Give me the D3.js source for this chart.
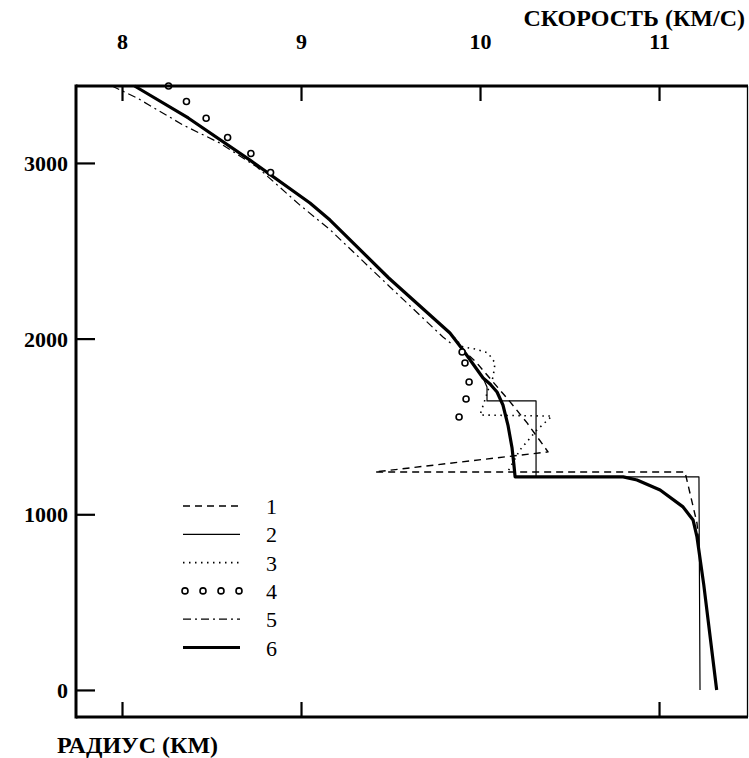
<!DOCTYPE html>
<html>
<head>
<meta charset="utf-8">
<script src="https://cdn.jsdelivr.net/npm/d3@7"></script>
<style>
  html, body { margin: 0; padding: 0; background: #fff; }
  svg { display: block; }
  text { font-family: "Liberation Serif", "Times New Roman", serif; fill: #000; }
</style>
</head>
<body>
<svg id="chart" width="749" height="758"></svg>
<script>
// Velocity axis (km/s) and radius axis (km)
const velocityTicks = [8, 9, 10, 11];
const velocityBottomTicks = [8, 9, 11];
const radiusTicks = [0, 1000, 2000, 3000];
const velocityTitle = "СКОРОСТЬ (КМ/С)";
const radiusTitle = "РАДИУС (КМ)";
const legendLabels = ["1", "2", "3", "4", "5", "6"];

// Model 6: [radius, velocity]
const model6 = [
  [3438, 8.07], [3256, 8.37], [3016, 8.715], [2772, 9.05], [2675, 9.162],
  [2345, 9.49], [2032, 9.832], [1935, 9.905], [1776, 10.017], [1742, 10.056],
  [1696, 10.095], [1622, 10.128], [1508, 10.156], [1377, 10.179], [1275, 10.19],
  [1213, 10.196], [1213, 10.80], [1195, 10.877], [1138, 11.006], [1042, 11.134],
  [968, 11.19], [871, 11.212], [598, 11.25], [0, 11.322]
];
// Model 2: step structure above the inner core
const model2 = [
  [3438, 8.07], [3256, 8.37], [3016, 8.715], [2772, 9.05], [2675, 9.162],
  [2345, 9.49], [2032, 9.832], [1935, 9.905], [1776, 10.017], [1725, 10.039],
  [1645, 10.039], [1645, 10.313], [1213, 10.313], [1213, 11.223], [0, 11.229]
];
// Model 1
const model1 = [
  [3438, 8.07], [3256, 8.37], [3016, 8.715], [2772, 9.05], [2675, 9.162],
  [2345, 9.49], [2032, 9.832], [1935, 9.905], [1870, 9.975], [1804, 10.03],
  [1640, 10.168], [1520, 10.263], [1355, 10.38], [1241, 9.413], [1241, 11.145],
  [950, 11.212], [825, 11.223]
];
// Model 3
const model3 = [
  [3438, 8.07], [3256, 8.37], [3016, 8.715], [2772, 9.05], [2675, 9.162],
  [2345, 9.49], [2032, 9.832], [1952, 9.905], [1941, 9.972], [1918, 10.045],
  [1861, 10.084], [1781, 10.073], [1707, 10.045], [1565, 10.0], [1559, 10.402],
  [1480, 10.318], [1366, 10.223], [1235, 10.151]
];
// Model 4: discrete estimates
const model4 = [
  [3438, 8.26], [3350, 8.36], [3254, 8.47], [3145, 8.59], [3054, 8.72], [2946, 8.83],
  [1924, 9.90], [1861, 9.916], [1753, 9.939], [1656, 9.922], [1554, 9.883]
];
// Model 5
const model5 = [
  [3438, 7.944], [3370, 8.084], [3216, 8.341], [3113, 8.547], [2977, 8.754],
  [2760, 8.994], [2620, 9.162], [2294, 9.497], [2009, 9.793], [1964, 9.849]
];

const svg = d3.select("#chart");
const mLeft = 76, mRight = 748, mTop = 86, mBottom = 717;

const x = d3.scaleLinear().domain([7.743, 11.497]).range([mLeft, mRight]);
const y = d3.scaleLinear().domain([-154, 3438]).range([mBottom, mTop]);

const line = d3.line().x(d => x(d[1])).y(d => y(d[0]));

// Line styles per model
const styles = {
  1: { width: 1.4, dash: "7,5" },
  2: { width: 1.2, dash: null },
  3: { width: 1.6, dash: "1.5,4.5" },
  5: { width: 1.2, dash: "8,4,2,4" },
  6: { width: 3.2, dash: null }
};

function drawLine(data, s) {
  svg.append("path")
    .datum(data)
    .attr("d", line)
    .attr("fill", "none")
    .attr("stroke", "#000")
    .attr("stroke-width", s.width)
    .attr("stroke-dasharray", s.dash)
    .attr("stroke-linejoin", "round");
}

drawLine(model2, styles[2]);
drawLine(model3, styles[3]);
drawLine(model1, styles[1]);
drawLine(model5, styles[5]);
drawLine(model6, styles[6]);

svg.append("g").selectAll("circle")
  .data(model4)
  .join("circle")
  .attr("cx", d => x(d[1]))
  .attr("cy", d => y(d[0]))
  .attr("r", 3)
  .attr("fill", "#fff")
  .attr("stroke", "#000")
  .attr("stroke-width", 1.6);

// Axes
const topAxis = d3.axisTop(x).tickValues(velocityTicks).tickSize(-15).tickPadding(37)
  .tickFormat(d3.format("d"));
const gTop = svg.append("g").attr("transform", `translate(0,${mTop})`).call(topAxis);

const leftAxis = d3.axisLeft(y).tickValues(radiusTicks).tickSize(-19).tickPadding(8)
  .tickFormat(d3.format("d"));
const gLeft = svg.append("g").attr("transform", `translate(${mLeft},0)`).call(leftAxis);

const bottomAxis = d3.axisBottom(x).tickValues(velocityBottomTicks).tickSize(-15).tickFormat("");
const gBottom = svg.append("g").attr("transform", `translate(0,${mBottom})`).call(bottomAxis);

[gTop, gLeft, gBottom].forEach(g => {
  g.select(".domain").remove();
  g.selectAll(".tick line").attr("stroke", "#000").attr("stroke-width", 2.2);
  g.selectAll(".tick text")
    .attr("font-family", "Liberation Serif, serif")
    .attr("font-weight", "bold")
    .attr("font-size", 22)
    .attr("fill", "#000");
});
gLeft.selectAll(".tick text").attr("dy", "0.35em");

// Frame
svg.append("line").attr("x1", mLeft).attr("x2", mRight).attr("y1", mTop).attr("y2", mTop)
  .attr("stroke", "#000").attr("stroke-width", 3);
svg.append("line").attr("x1", mLeft).attr("x2", mRight).attr("y1", mBottom).attr("y2", mBottom)
  .attr("stroke", "#000").attr("stroke-width", 3);
svg.append("line").attr("x1", mLeft).attr("x2", mLeft).attr("y1", mTop - 1.5).attr("y2", mBottom + 1.5)
  .attr("stroke", "#000").attr("stroke-width", 3);
svg.append("line").attr("x1", mRight - 0.5).attr("x2", mRight - 0.5).attr("y1", mTop).attr("y2", mBottom)
  .attr("stroke", "#000").attr("stroke-width", 1.3);

// Axis titles
svg.append("text").attr("x", 745).attr("y", 26).attr("text-anchor", "end")
  .attr("font-weight", "bold").attr("font-size", 24).text(velocityTitle);
svg.append("text").attr("x", 57).attr("y", 753)
  .attr("font-weight", "bold").attr("font-size", 24).text(radiusTitle);

// Legend
const legX1 = 183, legX2 = 240, legText = 266, legY0 = 506, legStep = 28.3;
legendLabels.forEach((lab, i) => {
  const ly = legY0 + i * legStep;
  const key = i + 1;
  if (key === 4) {
    [185, 203, 221, 239].forEach(cx => {
      svg.append("circle").attr("cx", cx).attr("cy", ly).attr("r", 3)
        .attr("fill", "#fff").attr("stroke", "#000").attr("stroke-width", 1.6);
    });
  } else {
    const s = styles[key];
    svg.append("line").attr("x1", legX1).attr("x2", legX2).attr("y1", ly).attr("y2", ly)
      .attr("stroke", "#000").attr("stroke-width", s.width).attr("stroke-dasharray", s.dash);
  }
  svg.append("text").attr("x", legText).attr("y", ly + 8).attr("font-size", 22).text(lab);
});
</script>
</body>
</html>
